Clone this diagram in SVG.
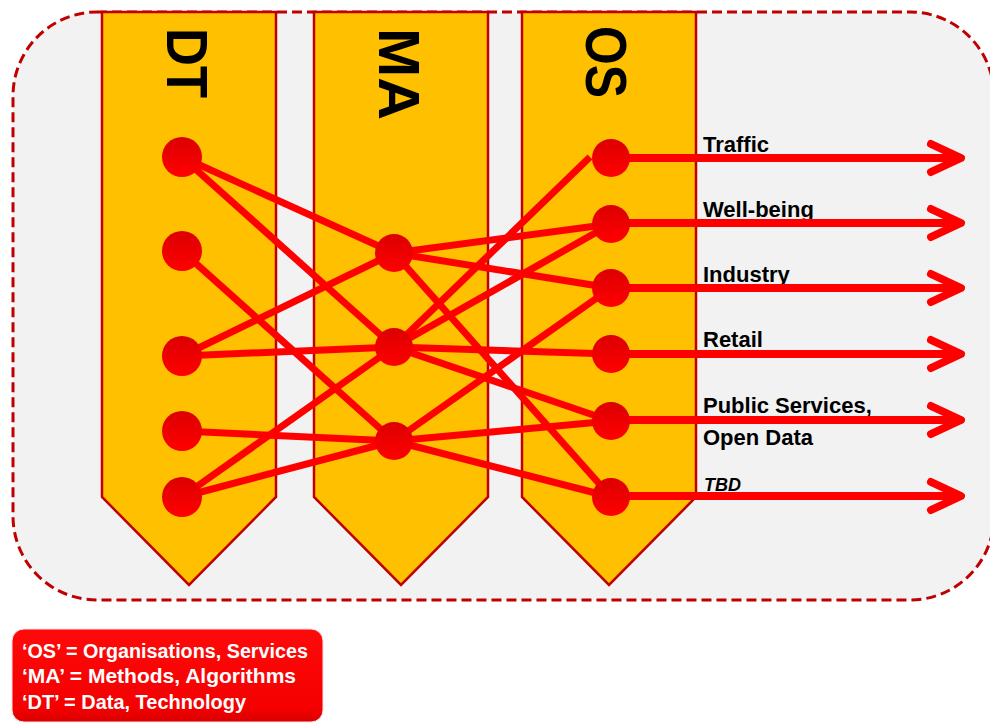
<svg xmlns="http://www.w3.org/2000/svg" width="990" height="724" viewBox="0 0 990 724">
  <style>
    .col { fill: #ffc000; stroke: #c00000; stroke-width: 2.5; stroke-linejoin: miter; }
    .colLabel { font-family: "Liberation Sans", Arial, sans-serif; font-weight: bold; font-size: 57px; fill: #000; }
    .lbl { font-family: "Liberation Sans", Arial, sans-serif; font-weight: bold; font-size: 22px; fill: #000; }
    .tbd { font-family: "Liberation Sans", Arial, sans-serif; font-weight: bold; font-style: italic; font-size: 18px; fill: #000; }
    .edge { stroke: #ff0000; stroke-width: 7; fill: none; stroke-linecap: butt; }
    .out { stroke: #ff0000; stroke-width: 8; fill: none; marker-end: url(#arr); }
    .node { fill: url(#nodeGrad); }
    .legend { font-family: "Liberation Sans", Arial, sans-serif; font-weight: bold; font-size: 20px; fill: #fff; }
  </style>
  <defs>
    <linearGradient id="nodeGrad" x1="0" y1="0" x2="0" y2="1">
      <stop offset="0" stop-color="#dc0000"/>
      <stop offset="1" stop-color="#ff0000"/>
    </linearGradient>
    <linearGradient id="legGrad" x1="0" y1="0" x2="0" y2="1">
      <stop offset="0" stop-color="#ff0a0a"/>
      <stop offset="0.85" stop-color="#f50000"/>
      <stop offset="1" stop-color="#d80000"/>
    </linearGradient>
    <marker id="arr" markerUnits="userSpaceOnUse" viewBox="-40 -22 48 44" refX="0" refY="0" markerWidth="48" markerHeight="44" orient="auto" overflow="visible">
      <path d="M-30,-14 L0,0 L-30,14" fill="none" stroke="#ff0000" stroke-width="8" stroke-linecap="round" stroke-linejoin="round"/>
    </marker>
  </defs>

  <rect width="990" height="724" fill="#ffffff"/>

  <!-- outer dashed container -->
  <rect id="container" x="13" y="12" width="981" height="588" rx="84" ry="84" fill="#f2f2f2" stroke="#c00000" stroke-width="3" stroke-dasharray="10,5"/>

  <!-- columns -->
  <g id="col-DT">
    <polygon class="col" points="102,12 276,12 276,497 189,585 102,497"/>
    <text class="colLabel" transform="translate(167,28) rotate(90)" textLength="70" lengthAdjust="spacingAndGlyphs">DT</text>
  </g>
  <g id="col-MA">
    <polygon class="col" points="314,12 488,12 488,497 401,585 314,497"/>
    <text class="colLabel" transform="translate(379,28) rotate(90)" textLength="92" lengthAdjust="spacingAndGlyphs">MA</text>
  </g>
  <g id="col-OS">
    <polygon class="col" points="522,12 696,12 696,497 609,585 522,497"/>
    <text class="colLabel" transform="translate(586,26) rotate(90)" textLength="72" lengthAdjust="spacingAndGlyphs">OS</text>
  </g>

  <!-- output labels -->
  <g id="labels">
    <text class="lbl" x="703" y="152">Traffic</text>
    <text class="lbl" x="703" y="217">Well-being</text>
    <text class="lbl" x="703" y="282">Industry</text>
    <text class="lbl" x="703" y="347">Retail</text>
    <text class="lbl" x="703" y="413">Public Services,</text>
    <text class="lbl" x="703" y="445">Open Data</text>
    <text class="tbd" x="704" y="491">TBD</text>
  </g>

  <!-- connectors -->
  <g id="connectors">
    <line class="edge" x1="182" y1="157" x2="394" y2="253"/>
    <line class="edge" x1="182" y1="157" x2="394" y2="347"/>
    <line class="edge" x1="182" y1="251" x2="394" y2="441"/>
    <line class="edge" x1="182" y1="356" x2="394" y2="253"/>
    <line class="edge" x1="182" y1="356" x2="394" y2="347"/>
    <line class="edge" x1="182" y1="431" x2="394" y2="441"/>
    <line class="edge" x1="182" y1="497" x2="394" y2="347"/>
    <line class="edge" x1="182" y1="497" x2="394" y2="441"/>

    <line class="edge" x1="394" y1="253" x2="611" y2="224"/>
    <line class="edge" x1="394" y1="253" x2="611" y2="288"/>
    <line class="edge" x1="394" y1="253" x2="611" y2="497"/>
    <line class="edge" x1="394" y1="347" x2="590" y2="157"/>
    <line class="edge" x1="394" y1="347" x2="611" y2="224"/>
    <line class="edge" x1="394" y1="347" x2="611" y2="354"/>
    <line class="edge" x1="394" y1="347" x2="611" y2="421"/>
    <line class="edge" x1="394" y1="441" x2="611" y2="288"/>
    <line class="edge" x1="394" y1="441" x2="611" y2="421"/>
    <line class="edge" x1="394" y1="441" x2="611" y2="497"/>

    <line class="out" x1="611" y1="158" x2="961" y2="158"/>
    <line class="out" x1="611" y1="223" x2="961" y2="223"/>
    <line class="out" x1="611" y1="288" x2="961" y2="288"/>
    <line class="out" x1="611" y1="354" x2="961" y2="354"/>
    <line class="out" x1="611" y1="420" x2="961" y2="420"/>
    <line class="out" x1="611" y1="496" x2="961" y2="496"/>
  </g>

  <!-- nodes -->
  <g id="DT-nodes">
    <circle id="dt1" class="node" cx="182" cy="157" r="20"/>
    <circle id="dt2" class="node" cx="182" cy="251" r="20"/>
    <circle id="dt3" class="node" cx="182" cy="356" r="20"/>
    <circle id="dt4" class="node" cx="182" cy="431" r="20"/>
    <circle id="dt5" class="node" cx="182" cy="497" r="20"/>
  </g>
  <g id="MA-nodes">
    <circle id="ma1" class="node" cx="394" cy="253" r="19"/>
    <circle id="ma2" class="node" cx="394" cy="347" r="19"/>
    <circle id="ma3" class="node" cx="394" cy="441" r="19"/>
  </g>
  <g id="OS-nodes">
    <circle id="os1" class="node" cx="611" cy="158" r="19"/>
    <circle id="os2" class="node" cx="611" cy="224" r="19"/>
    <circle id="os3" class="node" cx="611" cy="288" r="19"/>
    <circle id="os4" class="node" cx="611" cy="354" r="19"/>
    <circle id="os5" class="node" cx="611" cy="421" r="19"/>
    <circle id="os6" class="node" cx="611" cy="497" r="19"/>
  </g>

  <!-- legend -->
  <g id="legend">
    <rect x="12" y="629" width="311" height="93" rx="12" ry="12" fill="url(#legGrad)" stroke="#ffe0e0" stroke-width="1"/>
    <text class="legend" x="22" y="658" textLength="286" lengthAdjust="spacingAndGlyphs">‘OS’ = Organisations, Services</text>
    <text class="legend" x="22" y="683" textLength="274" lengthAdjust="spacingAndGlyphs">‘MA’ = Methods, Algorithms</text>
    <text class="legend" x="22" y="709" textLength="224" lengthAdjust="spacingAndGlyphs">‘DT’ = Data, Technology</text>
  </g>
</svg>
